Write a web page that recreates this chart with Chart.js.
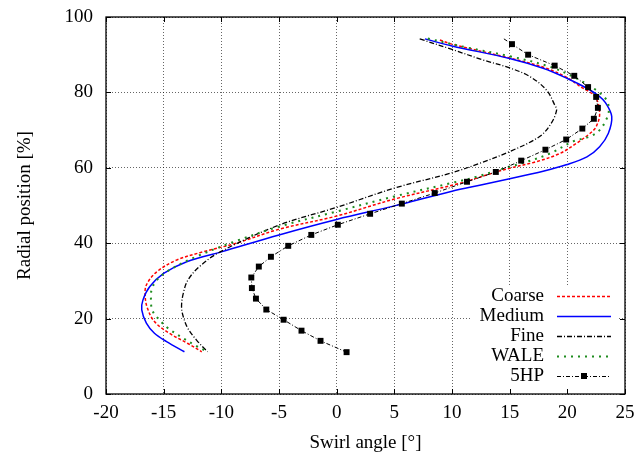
<!DOCTYPE html>
<html>
<head>
<meta charset="utf-8">
<script src="https://cdn.jsdelivr.net/npm/chart.js@4.4.0/dist/chart.umd.min.js"></script>
<style>
  html, body { margin: 0; padding: 0; background: #fff; }
</style>
</head>
<body>
<canvas id="chart" width="638" height="458"></canvas>
<script>
// profiles, listed from the top of the traverse down
const coarseX = [8.95, 10.0, 15.0, 18.0, 20.0, 21.1, 22.4, 22.8, 22.5, 21.95, 20.8, 19.35, 17.3, 15.0, 13.0, 10.7, 5.0, 0.0, -5.0, -8.7, -11.6, -13.9, -15.6, -16.5, -16.6, -16.4, -15.8, -14.5, -12.9, -11.7];
const coarseY = [93.9, 92.8, 89.1, 86.6, 83.9, 81.6, 78.9, 74.5, 70.9, 69.1, 66.5, 63.8, 61.6, 59.9, 58.1, 55.9, 51.7, 47.2, 43.7, 40.0, 37.7, 35.5, 32.4, 28.9, 25.8, 22.7, 19.2, 16.1, 13.4, 11.2];

const mediumX = [7.65, 10.0, 15.0, 17.9, 20.0, 21.7, 22.8, 23.3, 23.85, 23.55, 22.8, 21.7, 19.9, 17.9, 15.0, 12.4, 10.0, 5.0, 0.0, -5.0, -10.0, -13.0, -15.0, -16.2, -16.8, -16.9, -16.5, -15.8, -14.75, -13.2];
const mediumY = [94.2, 92.3, 89.0, 86.4, 83.7, 81.1, 78.9, 77.3, 73.6, 69.1, 65.6, 62.9, 60.8, 59.1, 57.1, 55.4, 53.8, 49.9, 46.3, 42.2, 37.7, 35.1, 32.0, 28.5, 24.9, 22.3, 18.8, 16.1, 13.9, 11.2];

const fineX = [7.2, 10.0, 12.7, 15.0, 16.75, 18.2, 18.9, 19.07, 18.6, 17.6, 15.0, 12.4, 10.0, 5.0, 0.0, -5.0, -10.1, -11.9, -12.9, -13.3, -13.45, -13.3, -12.9, -12.15, -11.2];
const fineY = [94.2, 91.4, 88.6, 86.5, 84.2, 80.6, 76.7, 75.3, 71.8, 68.3, 64.3, 61.2, 58.7, 54.6, 49.5, 44.8, 37.7, 33.8, 30.2, 26.7, 23.2, 20.5, 17.4, 14.3, 11.2];

const waleX = [7.9, 11.3, 15.0, 18.5, 20.8, 22.5, 23.4, 23.6, 23.45, 22.8, 21.95, 20.5, 18.5, 16.5, 15.0, 12.1, 10.0, 5.0, 0.0, -5.0, -8.7, -12.2, -14.5, -15.6, -16.05, -16.1, -16.0, -15.5, -14.6, -13.3, -12.15, -11.2];
const waleY = [94.3, 91.9, 89.6, 86.8, 83.7, 80.6, 78.0, 75.5, 73.3, 70.0, 68.3, 67.0, 63.8, 61.6, 60.3, 57.6, 56.0, 52.4, 48.4, 44.4, 40.6, 36.4, 32.9, 30.2, 27.6, 24.9, 22.3, 20.1, 17.4, 14.8, 12.7, 11.2];

// five-hole probe; the first entry only starts the line, it carries no marker
const probeX = [14.5, 15.2, 16.6, 18.9, 20.6, 21.8, 22.5, 22.65, 22.3, 21.3, 19.9, 18.1, 16.0, 13.8, 11.3, 8.5, 5.65, 2.9, 0.1, -2.2, -4.2, -5.7, -6.75, -7.4, -7.35, -7.0, -6.1, -4.6, -3.05, -1.4, 0.86];
const probeY = [94.2, 92.8, 90.0, 87.1, 84.4, 81.4, 78.8, 75.9, 73.0, 70.4, 67.5, 64.8, 61.9, 58.9, 56.3, 53.3, 50.5, 47.8, 44.9, 42.2, 39.3, 36.4, 33.8, 30.9, 28.1, 25.3, 22.4, 19.7, 16.8, 14.1, 11.1];

const xTicks = [-20, -15, -10, -5, 0, 5, 10, 15, 20, 25];
const yTicks = [0, 20, 40, 60, 80, 100];

const toPoints = (xs, ys) => xs.map((x, i) => ({ x: x, y: ys[i] }));

const SERIF = '"Liberation Serif", "DejaVu Serif", serif';
Chart.defaults.font.family = SERIF;
Chart.defaults.font.size = 19;
Chart.defaults.color = '#000';

// gnuplot style frame: inward ticks on all four sides, white key box
const framePlugin = {
    id: 'frame',
    beforeDatasetsDraw(chart) {
        const { ctx, chartArea: a } = chart;
        ctx.save();
        ctx.fillStyle = '#fff';
        ctx.fillRect(a.right - 155, a.bottom - 107, 148, 107);
        ctx.restore();
    },
    afterDraw(chart) {
        const { ctx, chartArea: a, scales } = chart;
        ctx.save();
        ctx.strokeStyle = '#000';
        ctx.lineWidth = 1.3;
        ctx.setLineDash([]);
        ctx.strokeRect(a.left, a.top, a.right - a.left, a.bottom - a.top);
        ctx.lineWidth = 1;
        ctx.beginPath();
        xTicks.forEach((v) => {
            const px = Math.round(scales.x.getPixelForValue(v)) + 0.5;
            ctx.moveTo(px, a.bottom); ctx.lineTo(px, a.bottom - 5);
            ctx.moveTo(px, a.top); ctx.lineTo(px, a.top + 5);
        });
        yTicks.forEach((v) => {
            const py = Math.round(scales.y.getPixelForValue(v)) + 0.5;
            ctx.moveTo(a.left, py); ctx.lineTo(a.left + 5, py);
            ctx.moveTo(a.right, py); ctx.lineTo(a.right - 5, py);
        });
        ctx.stroke();

        // key
        const sets = chart.data.datasets;
        ctx.font = '19px ' + SERIF;
        ctx.fillStyle = '#000';
        ctx.textAlign = 'right';
        ctx.textBaseline = 'middle';
        sets.forEach((ds, i) => {
            const y = a.bottom - 18 - (sets.length - 1 - i) * 20;
            ctx.fillText(ds.label, a.right - 81, y);
            ctx.save();
            ctx.strokeStyle = ds.borderColor;
            ctx.lineWidth = ds.borderWidth;
            ctx.setLineDash(ds.borderDash || []);
            ctx.beginPath();
            ctx.moveTo(a.right - 68, y + 0.5);
            ctx.lineTo(a.right - 14, y + 0.5);
            ctx.stroke();
            if (ds.pointStyle === 'rect') {
                ctx.fillStyle = ds.pointBackgroundColor;
                ctx.fillRect(a.right - 44, y - 3, 6, 6);
            }
            ctx.restore();
        });
        ctx.restore();
    },
};

new Chart(document.getElementById('chart'), {
    type: 'scatter',
    data: {
        datasets: [
            {
                label: 'Coarse',
                data: toPoints(coarseX, coarseY),
                showLine: true,
                borderColor: '#ff0000',
                borderWidth: 1.5,
                borderDash: [3, 2],
                pointRadius: 0,
                tension: 0.35,
                order: 5,
            },
            {
                label: 'Medium',
                data: toPoints(mediumX, mediumY),
                showLine: true,
                borderColor: '#0000ff',
                borderWidth: 1.5,
                pointRadius: 0,
                tension: 0.35,
                order: 4,
            },
            {
                label: 'Fine',
                data: toPoints(fineX, fineY),
                showLine: true,
                borderColor: '#000000',
                borderWidth: 1.3,
                borderDash: [5, 2, 1, 2],
                pointRadius: 0,
                tension: 0.35,
                order: 3,
            },
            {
                label: 'WALE',
                data: toPoints(waleX, waleY),
                showLine: true,
                borderColor: '#1e8c1e',
                borderWidth: 2,
                borderDash: [2, 5],
                pointRadius: 0,
                tension: 0.35,
                order: 2,
            },
            {
                label: '5HP',
                data: toPoints(probeX, probeY),
                showLine: true,
                borderColor: '#000000',
                borderWidth: 1,
                borderDash: [4, 2, 1, 2],
                pointStyle: 'rect',
                pointRadius: (c) => (c.dataIndex === 0 ? 0 : 4.2),
                pointBackgroundColor: '#000000',
                pointBorderWidth: 0,
                tension: 0,
                order: 1,
            },
        ],
    },
    options: {
        responsive: false,
        devicePixelRatio: 1,
        animation: false,
        layout: { padding: { top: 17, right: 13, left: 0, bottom: 0 } },
        plugins: {
            legend: { display: false },
            tooltip: { enabled: false },
        },
        scales: {
            x: {
                type: 'linear',
                min: -20,
                max: 25,
                afterBuildTicks: (scale) => { scale.ticks = xTicks.map((v) => ({ value: v })); },
                afterFit: (scale) => {
                    scale.height = 64;
                    scale.paddingLeft = 0;
                    scale.paddingRight = 0;
                },
                ticks: { padding: 8, font: { size: 19 } },
                grid: { color: 'rgba(0,0,0,0.6)', lineWidth: 1, drawTicks: false },
                border: { display: false, dash: [1, 2] },
                title: { display: true, text: 'Swirl angle [°]', padding: { top: 0, bottom: 4 }, font: { size: 19 } },
            },
            y: {
                type: 'linear',
                min: 0,
                max: 100,
                afterBuildTicks: (scale) => { scale.ticks = yTicks.map((v) => ({ value: v })); },
                afterFit: (scale) => {
                    scale.width = 106;
                    scale.paddingTop = 0;
                    scale.paddingBottom = 0;
                },
                ticks: { padding: 13, font: { size: 19 } },
                grid: { color: 'rgba(0,0,0,0.6)', lineWidth: 1, drawTicks: false },
                border: { display: false, dash: [1, 2] },
                title: { display: true, text: 'Radial position [%]', padding: { top: 14, bottom: 0 }, font: { size: 19 } },
            },
        },
    },
    plugins: [framePlugin],
});
</script>
</body>
</html>
